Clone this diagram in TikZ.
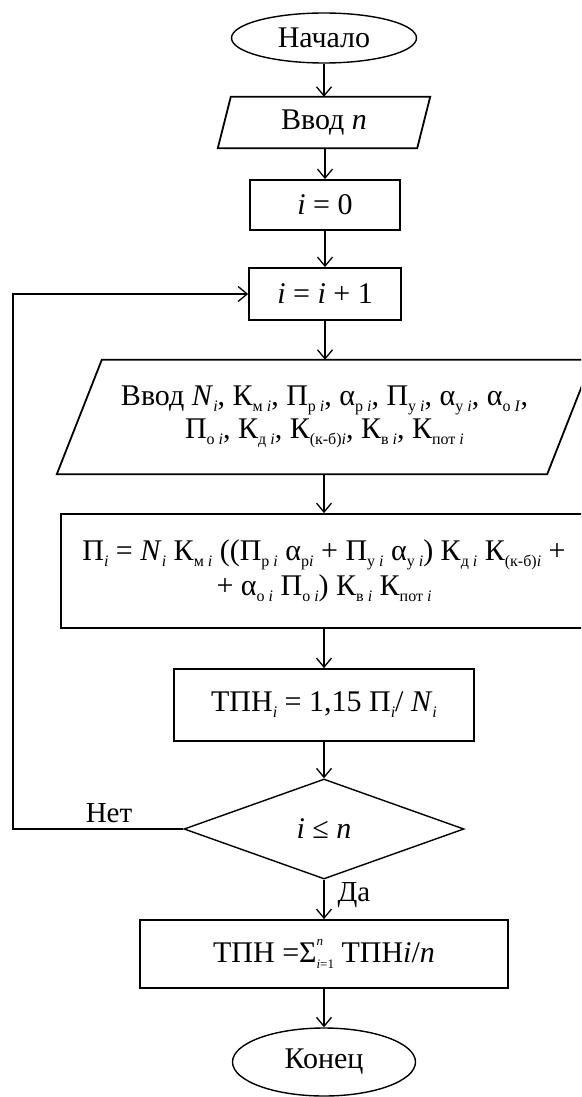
\documentclass[tikz,border=0pt]{standalone}
\usepackage{fontspec}
\setmainfont{Liberation Serif}
\newfontfamily\tnr{Liberation Serif}
\usetikzlibrary{shapes.geometric,arrows.meta}
\newcommand\myi{\textit{i}}
\newcommand\sbs[1]{\raisebox{-0.2em}{\fontsize{16}{16}\selectfont #1}}
\begin{document}
\begin{tikzpicture}[x=1pt,y=-1pt,
  txt/.style={font=\tnr\fontsize{30}{31}\selectfont, align=center},
  box/.style={txt, draw, line width=1.8pt, inner sep=0pt},
  pbox/.style={txt, inner sep=0pt},
  pline/.style={line width=1.8pt, line join=miter},
  arr/.style={line width=1.3pt, -{Straight Barb[length=9pt,width=15pt,line width=1.3pt]}},
  lbl/.style={font=\tnr\fontsize{29}{30}\selectfont, inner sep=0pt}]
\useasboundingbox (0,0) rectangle (581,1097);
\fill[white] (0,0) rectangle (581,1097);
\clip (0,0) rectangle (581,1097);

\node[box, ellipse, line width=1.4pt, minimum width=185pt, minimum height=50pt] (start) at (324,38) {Начало};

\node[pbox, minimum width=212pt, minimum height=51pt] (in1) at (324,122.5) {Ввод \textit{n}};
\draw[pline] ([xshift=13pt]in1.north west) -- (in1.north east) -- ([xshift=-13pt]in1.south east) -- (in1.south west) -- cycle;

\node[box, minimum width=150pt, minimum height=50pt] (set0) at (325,205) {\myi{} = 0};
\node[box, minimum width=152pt, minimum height=52pt] (inc) at (325,294) {\myi{} = \myi{} + 1};

\node[pbox, font=\tnr\fontsize{30}{33}\selectfont, minimum width=535pt, minimum height=114pt] (in2) at (324.5,417) {Ввод \textit{N}\sbs{\myi}, К\sbs{м \myi}, П\sbs{р \myi}, α\sbs{р \myi}, П\sbs{у \myi}, α\sbs{у \myi}, α\sbs{о \textit{I}},\\
П\sbs{о \myi}, К\sbs{д \myi}, К\sbs{(к-б)\myi}, К\sbs{в \myi}, К\sbs{пот \myi}};
\draw[pline] ([xshift=45pt]in2.north west) -- (in2.north east) -- ([xshift=-45pt]in2.south east) -- (in2.south west) -- cycle;

\node[box, font=\tnr\fontsize{30}{35}\selectfont, minimum width=526pt, minimum height=114pt] (calc) at (324,571) {П\sbs{\myi} = \textit{N}\sbs{\myi} К\sbs{м \myi} ((П\sbs{р \myi} α\sbs{р\myi} + П\sbs{у \myi} α\sbs{у \myi}) К\sbs{д \myi} К\sbs{(к-б)\myi} +\\
+ α\sbs{о \myi} П\sbs{о \myi}) К\sbs{в \myi} К\sbs{пот \myi}};

\node[box, minimum width=300pt, minimum height=72pt] (tpn) at (324,705) {ТПН\sbs{\myi} = 1,15 П\sbs{\myi}/ \textit{N}\sbs{\myi}};

\node[box, diamond, line width=1.4pt, minimum width=280pt, minimum height=100pt] (dec) at (324,829) {\myi{} ≤ \textit{n}};

\node[box, minimum width=368pt, minimum height=68pt] (fin) at (324,954) {ТПН =Σ\rlap{\raisebox{0.55em}{\fontsize{13}{13}\selectfont\textit{n}}}\raisebox{-0.2em}{\fontsize{13}{13}\selectfont\textit{i}=1} ТПН\textit{i}/\textit{n}};

\node[box, ellipse, line width=1.4pt, minimum width=183pt, minimum height=68pt] (end) at (324,1062) {Конец};

\coordinate (lp) at (13,829);
\draw[arr] (start) -- (in1);
\draw[arr] (in1.south -| set0) -- (set0);
\draw[arr] (set0) -- (inc);
\draw[arr] (inc) -- (inc |- in2.north);
\draw[arr] (in2.south -| calc) -- (calc);
\draw[arr] (calc) -- (tpn);
\draw[arr] (tpn) -- (dec);
\draw[arr] (dec) -- (fin);
\draw[arr] (fin) -- (end);
\draw[arr, line join=miter] (dec.west) -- (lp) |- (inc.west);

\node[lbl] (no) at (109,813) {Нет};
\node[lbl] (yes) at (354,895) {Да};
\end{tikzpicture}
\end{document}
